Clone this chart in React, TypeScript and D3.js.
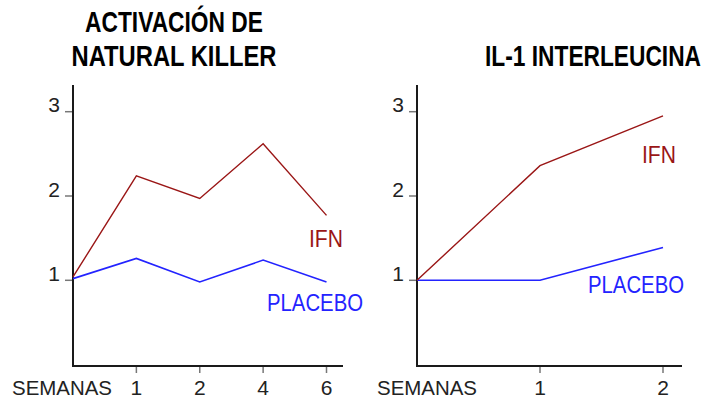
import { useEffect, useRef } from "react";
import * as d3 from "d3";

// left panel: Activación de Natural Killer
const nkWeeks = ["", "1", "2", "4", "6"];
const nkIfn = [1.04, 2.24, 1.97, 2.62, 1.77];
const nkPlacebo = [1.02, 1.26, 0.98, 1.24, 0.98];

// right panel: IL-1 Interleucina
const il1Weeks = ["", "1", "2"];
const il1Ifn = [1.0, 2.36, 2.95];
const il1Placebo = [1.0, 1.0, 1.39];

const yTicks = [1, 2, 3];

const RED = "#9a1616";
const BLUE = "#2323ff";
const FONT = "'Liberation Sans', Arial, sans-serif";
const NARROW = "'Liberation Sans Narrow', 'Arial Narrow', sans-serif";

interface PanelProps {
  svg: d3.Selection<SVGSVGElement, unknown, null, undefined>;
  weeks: string[];
  ifn: number[];
  placebo: number[];
  x0: number;
  x1: number;
  axisEnd: number;
  semanasX: number;
  ifnLabel: [number, number];
  placeboLabel: [number, number];
}

function drawPanel({
  svg,
  weeks,
  ifn,
  placebo,
  x0,
  x1,
  axisEnd,
  semanasX,
  ifnLabel,
  placeboLabel,
}: PanelProps) {
  const bottom = 366;
  const top = 85;
  const xScale = d3
    .scaleLinear()
    .domain([0, weeks.length - 1])
    .range([x0, x1]);
  const yScale = d3.scaleLinear().domain([0, 3]).range([364.6, 111.7]);

  const g = svg.append("g");

  // y ticks
  g.selectAll(".yt")
    .data(yTicks)
    .enter()
    .append("line")
    .attr("x1", x0 - 8)
    .attr("x2", x0)
    .attr("y1", (d) => yScale(d))
    .attr("y2", (d) => yScale(d))
    .attr("stroke", "#777")
    .attr("stroke-width", 1.5);

  g.selectAll(".yl")
    .data(yTicks)
    .enter()
    .append("text")
    .attr("x", x0 - 13)
    .attr("y", (d) => yScale(d) + 0.5)
    .attr("text-anchor", "end")
    .attr("font-family", FONT)
    .attr("font-size", 21)
    .attr("fill", "#222")
    .text((d) => d);

  // x ticks
  const idx = d3.range(1, weeks.length);
  g.selectAll(".xt")
    .data(idx)
    .enter()
    .append("line")
    .attr("x1", (d) => xScale(d))
    .attr("x2", (d) => xScale(d))
    .attr("y1", bottom)
    .attr("y2", bottom + 7)
    .attr("stroke", "#777")
    .attr("stroke-width", 1.5);

  g.selectAll(".xl")
    .data(idx)
    .enter()
    .append("text")
    .attr("x", (d) => xScale(d))
    .attr("y", 395)
    .attr("text-anchor", "middle")
    .attr("font-family", FONT)
    .attr("font-size", 21)
    .attr("fill", "#222")
    .text((d) => weeks[d]);

  g.append("text")
    .attr("x", semanasX)
    .attr("y", 395)
    .attr("font-family", FONT)
    .attr("font-size", 21)
    .attr("textLength", 100)
    .attr("lengthAdjust", "spacingAndGlyphs")
    .attr("fill", "#222")
    .text("SEMANAS");

  // axes
  g.append("path")
    .attr("d", `M${x0},${top}V${bottom}H${axisEnd}`)
    .attr("fill", "none")
    .attr("stroke", "#1a1a1a")
    .attr("stroke-width", 2);

  const line = d3
    .line<number>()
    .x((d, i) => xScale(i))
    .y((d) => yScale(d));

  g.append("path")
    .attr("d", line(placebo) as string)
    .attr("fill", "none")
    .attr("stroke", BLUE)
    .attr("stroke-width", 1.6);

  g.append("path")
    .attr("d", line(ifn) as string)
    .attr("fill", "none")
    .attr("stroke", RED)
    .attr("stroke-width", 1.4);

  g.append("text")
    .attr("x", ifnLabel[0])
    .attr("y", ifnLabel[1])
    .attr("font-family", FONT)
    .attr("font-size", 23)
    .attr("textLength", 34)
    .attr("lengthAdjust", "spacingAndGlyphs")
    .attr("fill", RED)
    .text("IFN");

  g.append("text")
    .attr("x", placeboLabel[0])
    .attr("y", placeboLabel[1])
    .attr("font-family", FONT)
    .attr("font-size", 23)
    .attr("textLength", 96)
    .attr("lengthAdjust", "spacingAndGlyphs")
    .attr("fill", BLUE)
    .text("PLACEBO");
}

function App() {
  const svgRef = useRef<SVGSVGElement | null>(null);

  useEffect(() => {
    const svg = d3.select(svgRef.current as SVGSVGElement);
    svg.selectAll("*").remove();

    // titles are squeezed horizontally to the width they have in the picture
    const title = (t: string, x: number, y: number, w: number) => {
      const tg = svg.append("g");
      const txt = tg
        .append("text")
        .attr("text-anchor", "middle")
        .attr("font-family", NARROW)
        .attr("font-weight", "bold")
        .attr("font-size", 29)
        .attr("fill", "#000")
        .text(t);
      const natural = (txt.node() as SVGTextElement).getComputedTextLength();
      const sx = natural > 0 ? w / natural : 1;
      tg.attr("transform", `translate(${x},${y}) scale(${sx},1)`);
    };

    title("ACTIVACIÓN DE", 174, 32, 178);
    title("NATURAL KILLER", 174, 66, 205);
    title("IL-1 INTERLEUCINA", 593, 66, 216);

    drawPanel({
      svg,
      weeks: nkWeeks,
      ifn: nkIfn,
      placebo: nkPlacebo,
      x0: 73,
      x1: 326.5,
      axisEnd: 343,
      semanasX: 12,
      ifnLabel: [309, 247],
      placeboLabel: [267, 311],
    });

    drawPanel({
      svg,
      weeks: il1Weeks,
      ifn: il1Ifn,
      placebo: il1Placebo,
      x0: 417,
      x1: 663,
      axisEnd: 682,
      semanasX: 377,
      ifnLabel: [642, 163],
      placeboLabel: [588, 293],
    });
  }, []);

  return (
    <svg
      ref={svgRef}
      width={710}
      height={400}
      style={{ position: "absolute", left: 0, top: 0, background: "#fff" }}
    ></svg>
  );
}

export default App;
